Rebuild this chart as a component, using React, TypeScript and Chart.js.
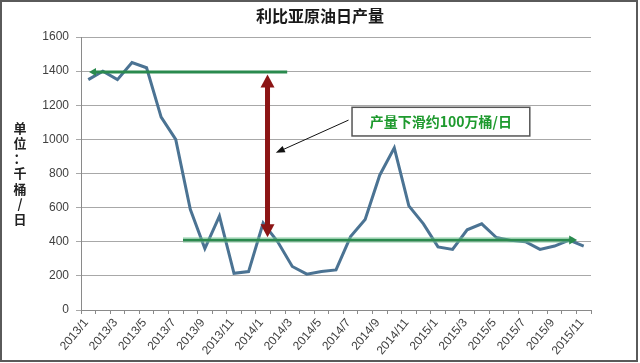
import React, { useEffect, useRef } from 'react';
import { Chart, registerables } from 'chart.js';

Chart.register(...registerables);

const months: string[] = [
  '2013/1', '2013/2', '2013/3', '2013/4', '2013/5', '2013/6', '2013/7', '2013/8', '2013/9', '2013/10', '2013/11', '2013/12',
  '2014/1', '2014/2', '2014/3', '2014/4', '2014/5', '2014/6', '2014/7', '2014/8', '2014/9', '2014/10', '2014/11', '2014/12',
  '2015/1', '2015/2', '2015/3', '2015/4', '2015/5', '2015/6', '2015/7', '2015/8', '2015/9', '2015/10', '2015/11',
];

const production: number[] = [
  1350, 1400, 1350, 1450, 1420, 1130, 1000, 590, 360, 550, 215, 225,
  510, 400, 255, 210, 225, 235, 430, 530, 790, 950, 610, 505,
  370, 355, 470, 505, 425, 408, 400, 355, 375, 410, 375,
];

const yMin = 0;
const yMax = 1600;
const yStep = 200;

const titleText = '利比亚原油日产量';
const yAxisTitleChars: string[] = ['单', '位', '：', '千', '桶', '/', '日'];
const calloutText = '产量下滑约100万桶/日';

// annotation anchors, in data units (category index, value)
const topLevel = 1395;
const topSpan: number[] = [0.05, 13.65];
const bottomLevel = 410;
const bottomSpan: number[] = [6.5, 33.55];
const dropArrowIndex = 12.3;
const dropRange: number[] = [427, 1380];
const calloutIndexRange: number[] = [18.1, 30.3];
const calloutValueRange: number[] = [1020, 1188];
const pointerFrom: number[] = [17.86, 1113];
const pointerTo: number[] = [12.87, 921];

function arrowHead(ctx: CanvasRenderingContext2D, x: number, y: number, angle: number, len: number, wid: number, color: string) {
  ctx.save();
  ctx.translate(x, y);
  ctx.rotate(angle);
  ctx.beginPath();
  ctx.moveTo(0, 0);
  ctx.lineTo(-len, -wid / 2);
  ctx.lineTo(-len, wid / 2);
  ctx.closePath();
  ctx.fillStyle = color;
  ctx.fill();
  ctx.restore();
}

const decorPlugin = {
  id: 'decor',
  afterDraw(chart: any) {
    const ctx: CanvasRenderingContext2D = chart.ctx;
    const xs = chart.scales.x;
    const ys = chart.scales.y;
    const px = (i: number) => xs.getPixelForValue(i);
    const py = (v: number) => ys.getPixelForValue(v);
    ctx.save();

    // title
    ctx.fillStyle = '#1a1a1a';
    ctx.font = 'bold 16px "Noto Sans CJK SC", sans-serif';
    ctx.textAlign = 'center';
    ctx.textBaseline = 'middle';
    ctx.fillText(titleText, chart.width / 2, 16);

    // y axis title (stacked)
    ctx.font = 'bold 13px "Noto Sans CJK SC", sans-serif';
    ctx.fillStyle = '#222';
    const yc = (chart.chartArea.top + chart.chartArea.bottom) / 2;
    const step = 15.2;
    yAxisTitleChars.forEach((c, i) => {
      ctx.fillText(c, 20, yc + (i - (yAxisTitleChars.length - 1) / 2) * step);
    });

    // top green line with left arrow
    const green = '#2a8a4e';
    const ty = py(topLevel);
    ctx.strokeStyle = green;
    ctx.lineWidth = 3;
    ctx.beginPath();
    ctx.moveTo(px(topSpan[0]) + 4, ty);
    ctx.lineTo(px(topSpan[1]), ty);
    ctx.stroke();
    arrowHead(ctx, px(topSpan[0]), ty, Math.PI, 7, 8, green);

    // bottom green line with right arrow
    const by = py(bottomLevel);
    ctx.strokeStyle = 'rgba(120,200,150,0.45)';
    ctx.lineWidth = 6;
    ctx.beginPath();
    ctx.moveTo(px(bottomSpan[0]), by);
    ctx.lineTo(px(bottomSpan[1]) - 4, by);
    ctx.stroke();
    ctx.strokeStyle = green;
    ctx.lineWidth = 2.5;
    ctx.beginPath();
    ctx.moveTo(px(bottomSpan[0]), by);
    ctx.lineTo(px(bottomSpan[1]) - 4, by);
    ctx.stroke();
    arrowHead(ctx, px(bottomSpan[1]), by, 0, 8, 9, green);

    // red double arrow
    const red = '#8c1515';
    const ax = px(dropArrowIndex);
    const y1 = py(dropRange[1]);
    const y2 = py(dropRange[0]);
    ctx.strokeStyle = red;
    ctx.lineWidth = 5;
    ctx.beginPath();
    ctx.moveTo(ax, y1 + 10);
    ctx.lineTo(ax, y2 - 10);
    ctx.stroke();
    arrowHead(ctx, ax, y1, -Math.PI / 2, 13, 14, red);
    arrowHead(ctx, ax, y2, Math.PI / 2, 13, 14, red);

    // pointer arrow
    const fx = px(pointerFrom[0]);
    const fy = py(pointerFrom[1]);
    const tx = px(pointerTo[0]);
    const tyy = py(pointerTo[1]);
    const ang = Math.atan2(tyy - fy, tx - fx);
    ctx.strokeStyle = '#111';
    ctx.lineWidth = 1;
    ctx.beginPath();
    ctx.moveTo(fx, fy);
    ctx.lineTo(tx - Math.cos(ang) * 6, tyy - Math.sin(ang) * 6);
    ctx.stroke();
    arrowHead(ctx, tx, tyy, ang, 9, 7, '#111');

    // callout box
    const bx1 = px(calloutIndexRange[0]);
    const bx2 = px(calloutIndexRange[1]);
    const byTop = py(calloutValueRange[1]);
    const byBot = py(calloutValueRange[0]);
    ctx.fillStyle = '#ffffff';
    ctx.fillRect(bx1, byTop, bx2 - bx1, byBot - byTop);
    ctx.strokeStyle = '#555';
    ctx.lineWidth = 1.5;
    ctx.strokeRect(bx1, byTop, bx2 - bx1, byBot - byTop);
    ctx.fillStyle = '#1e9a2e';
    ctx.font = 'bold 14px "Noto Sans CJK SC", sans-serif';
    ctx.textAlign = 'center';
    ctx.textBaseline = 'middle';
    ctx.fillText(calloutText, (bx1 + bx2) / 2, (byTop + byBot) / 2 + 0.5);

    // outer frame
    ctx.strokeStyle = '#5a5a5a';
    ctx.lineWidth = 2;
    ctx.strokeRect(1, 1, 636, 360);

    ctx.restore();
  },
};

export default function App() {
  const ref = useRef<HTMLCanvasElement | null>(null);
  useEffect(() => {
    if (!ref.current) return;
    const chart = new Chart(ref.current, {
      type: 'line',
      data: {
        labels: months,
        datasets: [
          {
            data: production,
            borderColor: '#4b7393',
            borderWidth: 3,
            pointRadius: 0,
            tension: 0,
            fill: false,
          },
        ],
      },
      options: {
        responsive: false,
        animation: false,
        layout: { padding: { top: 37, right: 49, bottom: 0, left: 0 } },
        plugins: { legend: { display: false }, tooltip: { enabled: false }, title: { display: false } },
        scales: {
          x: {
            offset: true,
            grid: { offset: true, drawOnChartArea: false, drawTicks: true, tickLength: 4, color: '#8a8a8a' },
            border: { display: true, color: '#8a8a8a' },
            ticks: {
              autoSkip: false,
              minRotation: 50,
              maxRotation: 50,
              padding: 2,
              labelOffset: -2,
              color: '#404040',
              font: { family: '"Liberation Sans", Arial, sans-serif', size: 12 },
              callback: (_v: any, i: number) => (i % 2 === 0 ? months[i] : ''),
            },
            afterFit: (s: any) => { s.height = 53; },
          },
          y: {
            min: yMin,
            max: yMax,
            ticks: {
              stepSize: yStep,
              padding: 7,
              color: '#404040',
              font: { family: '"Liberation Sans", Arial, sans-serif', size: 12 },
              callback: (v: any) => String(v),
            },
            grid: { color: '#a8a8a8', lineWidth: 1, tickLength: 5, drawTicks: true },
            border: { display: true, color: '#8a8a8a' },
            afterFit: (s: any) => { s.width = 81; },
          },
        },
      },
      plugins: [decorPlugin],
    });
    return () => chart.destroy();
  }, []);
  return (
    <div style={{ position: 'fixed', left: 0, top: 0, width: 640, height: 363, background: '#fff' }}>
      <canvas ref={ref} width={640} height={363} style={{ width: 640, height: 363, display: 'block' }} />
    </div>
  );
}
